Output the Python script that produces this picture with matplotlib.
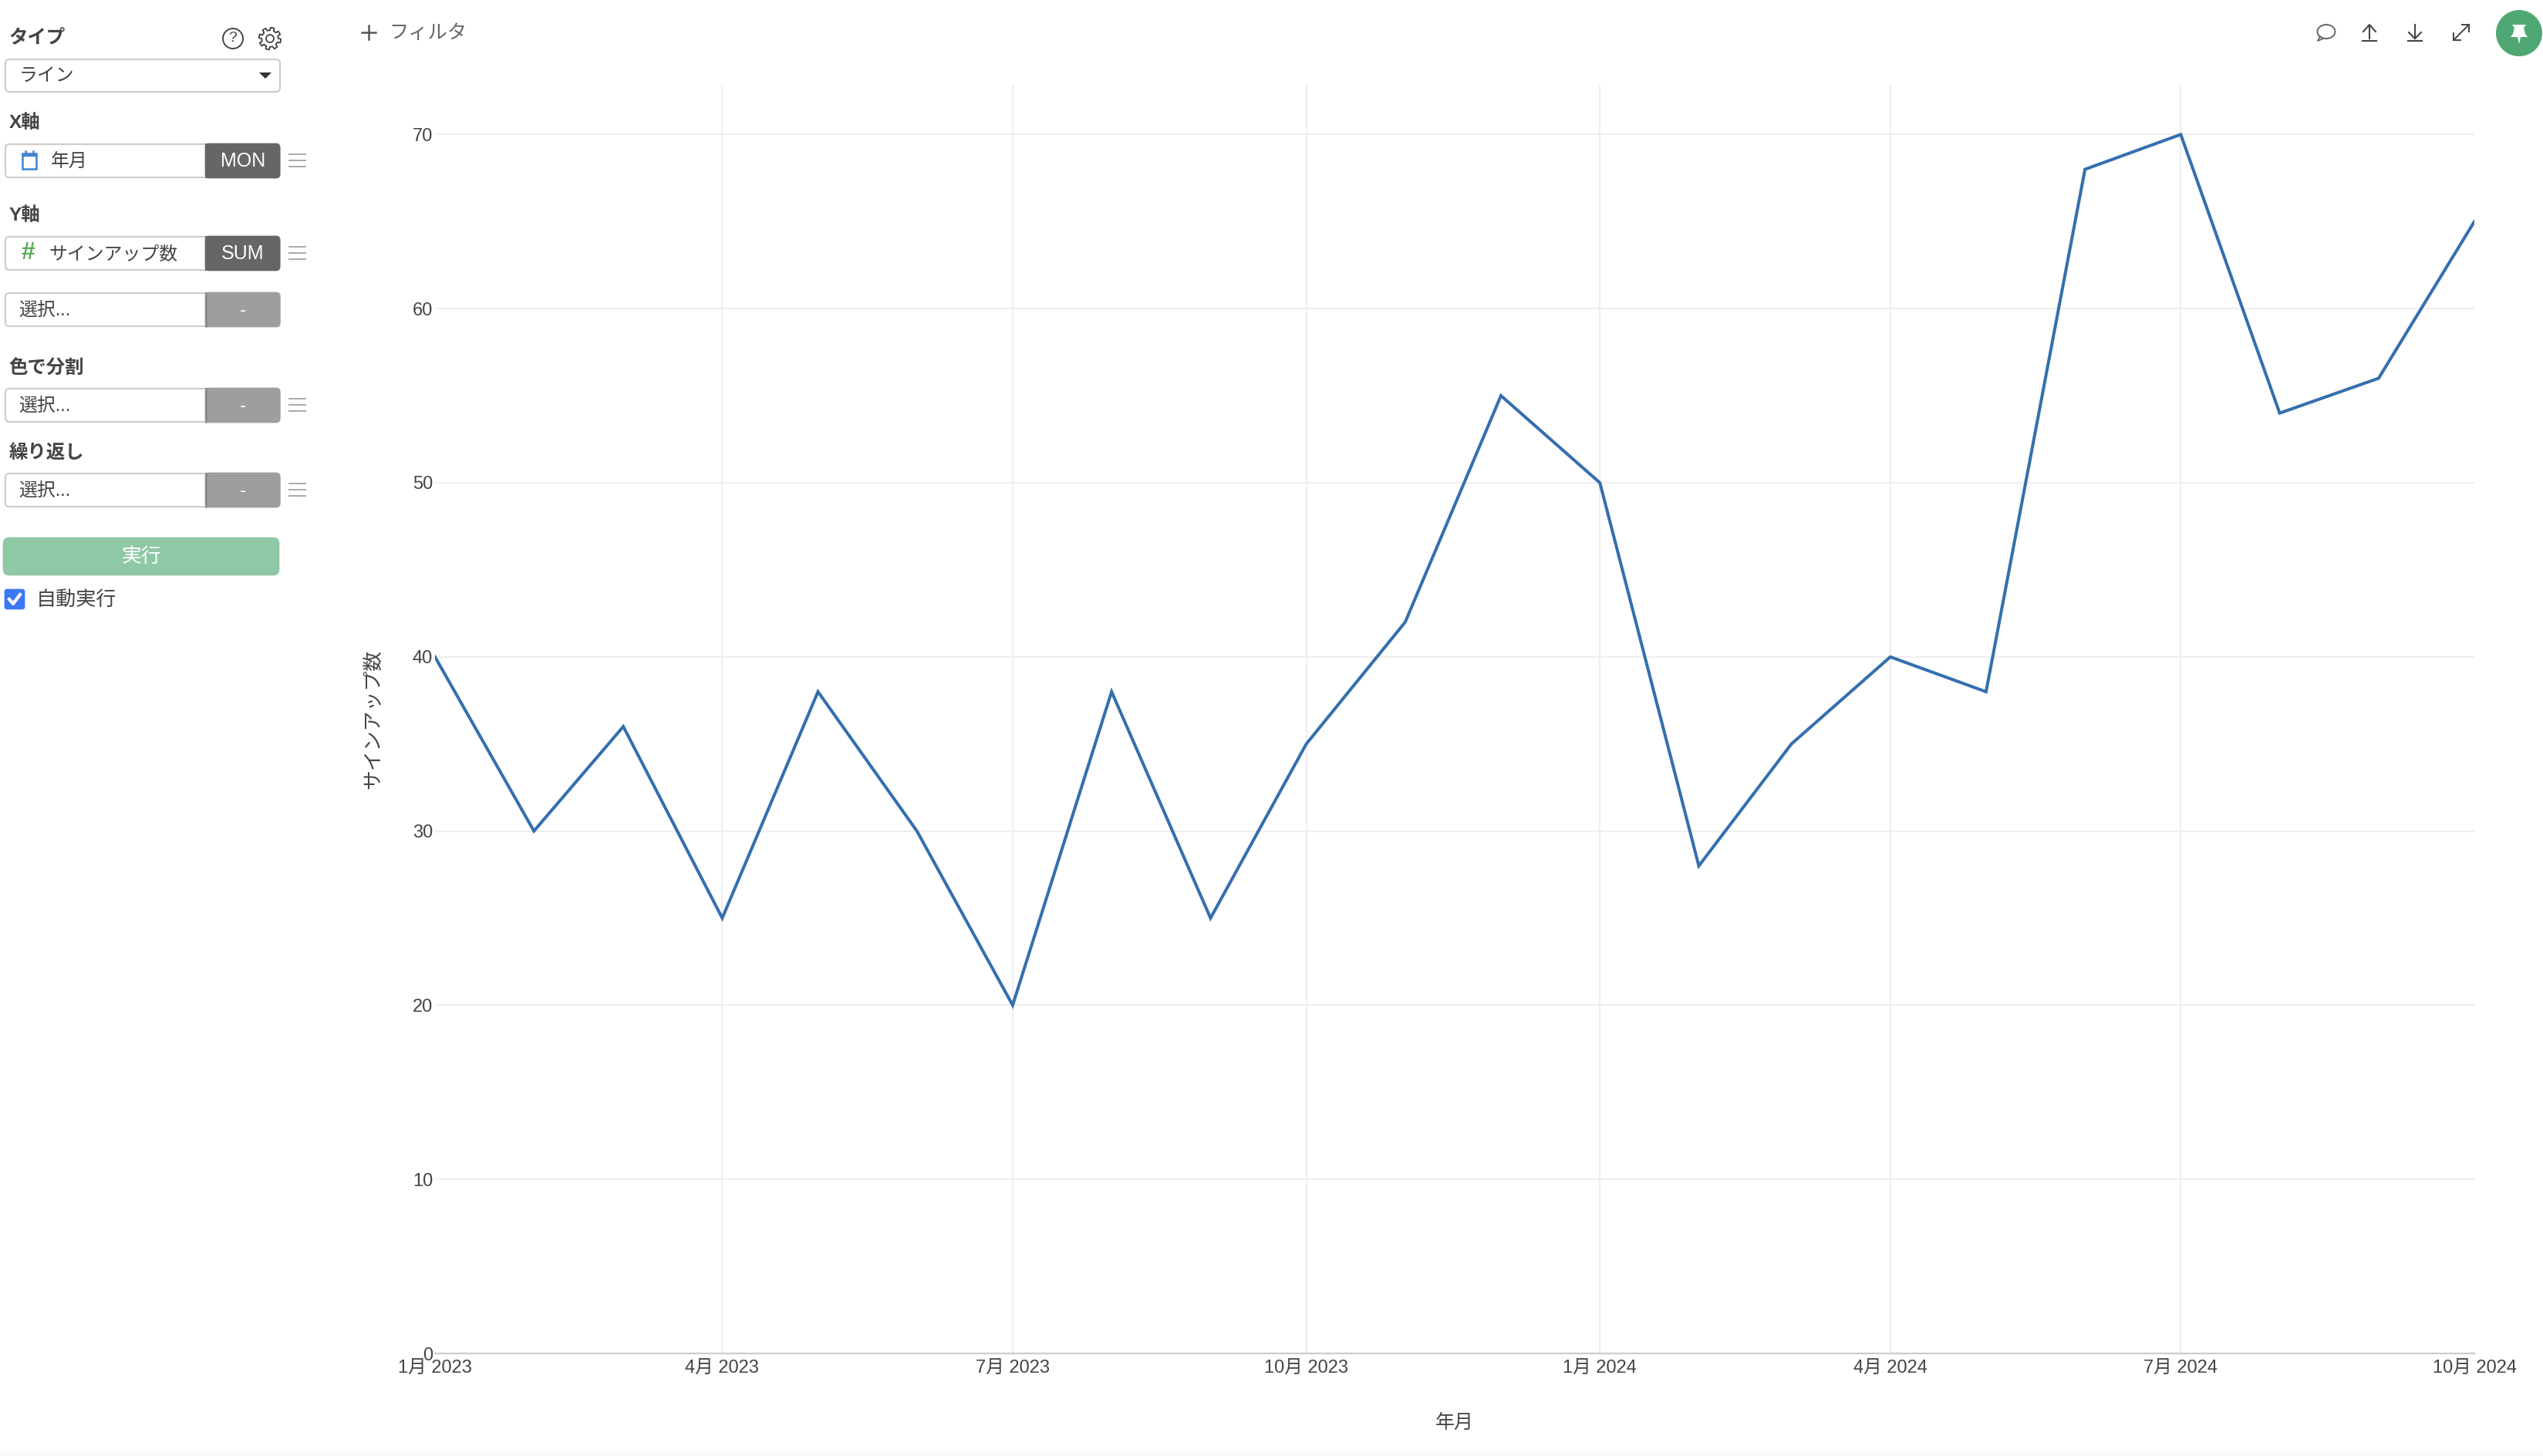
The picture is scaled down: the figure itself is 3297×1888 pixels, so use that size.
import numpy as np
import matplotlib
matplotlib.use("Agg")
import matplotlib.pyplot as plt
import matplotlib.dates as mdates
from matplotlib.patches import FancyBboxPatch, Rectangle, Circle, Polygon, Ellipse

plt.rcParams['font.family'] = ['Liberation Sans', 'Noto Sans CJK JP', 'DejaVu Sans']

W, H = 3298, 1888
months = ["2023-01","2023-02","2023-03","2023-04","2023-05","2023-06","2023-07","2023-08",
          "2023-09","2023-10","2023-11","2023-12","2024-01","2024-02","2024-03","2024-04",
          "2024-05","2024-06","2024-07","2024-08","2024-09","2024-10"]
signups = [40,30,36,25,38,30,20,38,25,35,42,55,50,28,35,40,38,68,70,54,56,65]
tick_months = ["2023-01","2023-04","2023-07","2023-10","2024-01","2024-04","2024-07","2024-10"]
tick_labels = ["1月 2023","4月 2023","7月 2023","10月 2023","1月 2024","4月 2024","7月 2024","10月 2024"]
y_ticks = [0,10,20,30,40,50,60,70]
x_title = "年月"
y_title = "サインアップ数"

def d(m):
    return mdates.date2num(np.datetime64(m + "-01"))

fig = plt.figure(figsize=(W/100, H/100), dpi=100, facecolor='white')
L, R, T, B = 564, 3208, 110, 1755
ax = fig.add_axes([L/W, 1-B/H, (R-L)/W, (B-T)/H])
ax.set_xlim(d(months[0]), d(months[-1]))
ax.set_ylim(0, (B-T)/22.58)
ax.plot([d(m) for m in months], signups, color='#346fae', lw=2.9, solid_joinstyle='miter', zorder=3)
ax.set_xticks([d(m) for m in tick_months]); ax.set_xticklabels(tick_labels)
ax.set_yticks(y_ticks)
ax.grid(True, color='#eeeeee', lw=1.5)
ax.set_axisbelow(True)
xg = ax.get_xgridlines()
xg[0].set_visible(False); xg[-1].set_visible(False)
ax.get_ygridlines()[0].set_visible(False)
for s in ['top','right','left']:
    ax.spines[s].set_visible(False)
ax.spines['bottom'].set_color('#cccccc'); ax.spines['bottom'].set_linewidth(1.6)
ax.tick_params(axis='both', length=0, labelsize=17, labelcolor='#444444')
ax.tick_params(axis='x', pad=6)
ax.tick_params(axis='y', pad=2)
ax.set_xlabel(x_title, fontsize=18, color='#444444', labelpad=34)
ax.set_ylabel(y_title, fontsize=18.6, color='#444444', labelpad=28)

ui = fig.add_axes([0,0,1,1], zorder=5)
ui.set_xlim(0,W); ui.set_ylim(H,0); ui.axis('off'); ui.patch.set_alpha(0)

def box(x0,y0,x1,y1,fc='white',ec='#cccccc',lw=1.5,r=5):
    ui.add_patch(FancyBboxPatch((x0+r,y0+r),x1-x0-2*r,y1-y0-2*r,boxstyle=f"round,pad={r},rounding_size={r}",fc=fc,ec=ec,lw=lw))
def txt(x,y,s,size=17.2,color='#444444',weight='normal',ha='left'):
    ui.text(x,y+3,s,fontsize=size,color=color,fontweight=weight,ha=ha,va='center')
def menu(x,y):
    for dy in (-8,0,8):
        ui.plot([x,x+21],[y+dy,y+dy],color='#aaaaaa',lw=1.4)
def field(y0, label, btn, active, fieldx=None, has_menu=True):
    y1=y0+43
    box(7,y0,363,y1)
    col = '#666666' if active else '#9e9e9e'
    box(266,y0-1,363,y1+1,fc=col,ec=col,lw=0.5)
    ui.add_patch(Rectangle((266,y0-1),8,y1-y0+2,fc=col,ec='none'))
    if not active:
        ui.plot([267,267],[y0,y1],color='#8a8a8a',lw=1.8)
    txt(fieldx or 24,(y0+y1)/2-1,label)
    txt(315,(y0+y1)/2-2,btn,color='white',ha='center',size=18)
    if has_menu:
        menu(375,(y0+y1)/2-1)

for yy, lab in [(46,"タイプ"),(157,"X軸"),(277,"Y軸"),(475,"色で分割"),(585,"繰り返し")]:
    txt(12,yy,lab,weight='bold',size=17.6)

ui.add_patch(Circle((302,50),13,fc='none',ec='#444444',lw=1.4))
ui.text(302,50,"?",fontsize=14,color='#444444',ha='center',va='center')
th=np.linspace(0,2*np.pi,97)
rg=12.5+1.8*np.sign(np.sin(8*th))
ui.plot(350+rg*np.cos(th),50+rg*np.sin(th),color='#444444',lw=1.3)
ui.add_patch(Circle((350,50),5,fc='none',ec='#444444',lw=1.3))

box(7,77,363,119)
txt(25,96,"ライン",size=17.2)
ui.add_patch(Polygon([[336,94],[352,94],[344,102]],fc='#333333',ec='none'))

field(187,"年月","MON",True,fieldx=66)
ui.add_patch(Rectangle((29,199),18,20,fc='white',ec='#3d85d0',lw=1.8))
ui.add_patch(Rectangle((29,199),18,3,fc='#3d85d0',ec='#3d85d0',lw=1))
ui.plot([33,33],[196,200],color='#3d85d0',lw=1.8); ui.plot([43,43],[196,200],color='#3d85d0',lw=1.8)
field(307,"サインアップ数","SUM",True,fieldx=63)
ui.text(36,328,"#",fontsize=23,color='#5cab55',fontweight='bold',ha='center',va='center')
field(380,"選択...","-",False,has_menu=False)
field(504,"選択...","-",False)
field(614,"選択...","-",False)

box(4,697,362,746,fc='#8fc8a4',ec='#8fc8a4',lw=0.5,r=8)
txt(183,719,"実行",color='white',ha='center',size=18.5)
box(6,764,32,790,fc='#3b78f5',ec='#3b78f5',lw=0.5,r=3)
ui.plot([12,17,26],[777,783,771],color='white',lw=3)
txt(47,775,"自動実行",size=18.8)

ui.plot([469,487],[42,42],color='#555555',lw=1.8); ui.plot([478,478],[33,51],color='#555555',lw=1.8)
txt(504,40,"フィルタ",color='#666666',size=18.2)

ic='#444444'
ui.add_patch(Ellipse((3016,41),23,18,fc='none',ec='#666666',lw=1.4))
ui.plot([3008,3005,3012],[47,53,50],color='#666666',lw=1.3)
ui.plot([3072,3072],[33,50],color=ic,lw=1.5); ui.plot([3064,3072,3080],[41,32,41],color=ic,lw=1.5); ui.plot([3063,3081],[53,53],color=ic,lw=1.5)
ui.plot([3131,3131],[32,50],color=ic,lw=1.5); ui.plot([3123,3131,3139],[42,50,42],color=ic,lw=1.5); ui.plot([3122,3140],[53,53],color=ic,lw=1.5)
ui.plot([3181,3201],[52,32],color=ic,lw=1.4)
ui.plot([3192,3201,3201],[32,32,41],color=ic,lw=1.4); ui.plot([3181,3181,3190],[43,52,52],color=ic,lw=1.4)
ui.add_patch(Circle((3266,43),30,fc='#4fa873',ec='none'))
ui.add_patch(Polygon([[3257,32],[3275,32],[3272,36],[3274,44],[3277,48],[3268,48],[3266,57],[3264,48],[3255,48],[3258,44],[3260,36]],fc='white',ec='none'))
ui.add_patch(Rectangle((0,1882),W,6,fc='#fafafa',ec='none'))

fig.savefig("out.png", dpi=100, facecolor='white')
